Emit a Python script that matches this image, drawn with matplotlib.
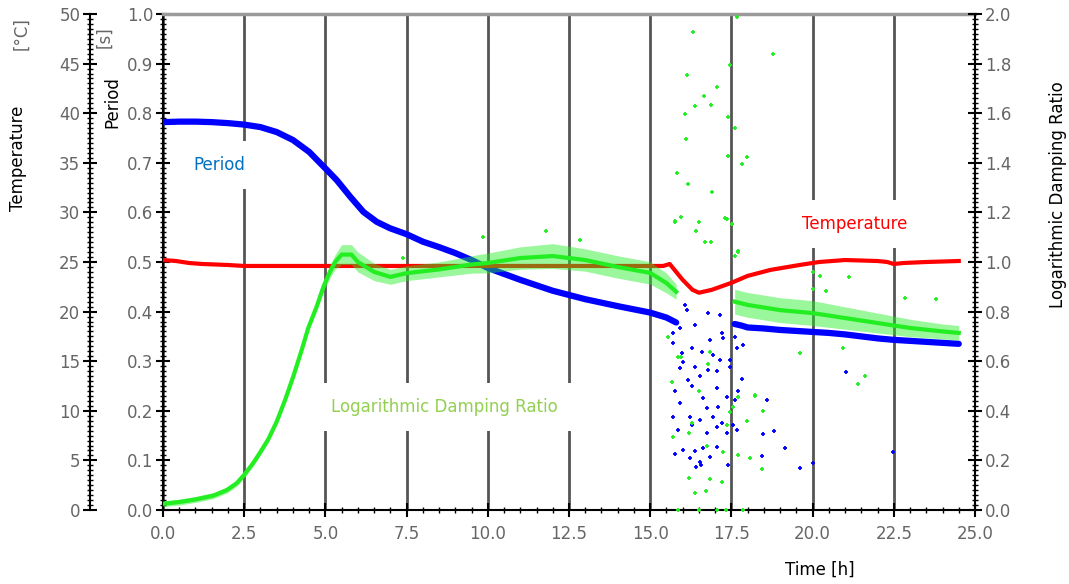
import numpy as np
import matplotlib
matplotlib.use("Agg")
import matplotlib.pyplot as plt
from matplotlib.ticker import MultipleLocator, FormatStrFormatter

# ---- data ----
# period band [s]
t_per = [0, 0.5, 1, 1.5, 2, 2.5, 3, 3.5, 4, 4.5, 5.04, 5.35, 5.76, 6.17, 6.58, 6.99,
         7.5, 8, 8.5, 9, 9.5, 10, 11, 12, 13, 14, 15, 15.5, 15.8]
per = [0.782, 0.783, 0.783, 0.782, 0.780, 0.777, 0.772, 0.762, 0.746, 0.722, 0.686,
       0.665, 0.632, 0.601, 0.581, 0.568, 0.556, 0.541, 0.530, 0.518, 0.504, 0.488,
       0.464, 0.442, 0.425, 0.411, 0.398, 0.388, 0.378]
t_per2 = [17.6, 17.8, 18.0, 18.5, 19, 19.5, 20, 20.5, 21, 21.5, 22, 22.5, 23, 23.5, 24, 24.5]
per2 = [0.375, 0.372, 0.368, 0.366, 0.363, 0.361, 0.359, 0.357, 0.354, 0.350, 0.346,
        0.343, 0.341, 0.339, 0.337, 0.335]

# scattered period points (15.7 - 22.5 h)
t_per_sc = [16.07, 16.12, 16.79, 17.15, 15.69, 15.92, 16.38, 16.84, 17.20, 17.61, 17.68,
            17.87, 15.71, 15.97, 16.28, 16.58, 16.94, 17.25, 17.46, 16.02, 16.38, 16.79,
            17.15, 15.92, 16.17, 16.53, 17.05, 17.46, 17.82, 15.76, 16.28, 16.64, 17.05,
            17.35, 17.71, 15.92, 16.74, 17.10, 17.61, 15.71, 16.23, 16.53, 16.94, 17.20,
            17.56, 15.87, 16.28, 16.74, 17.05, 17.35, 17.66, 16.02, 16.38, 16.64, 17.05,
            15.76, 16.23, 16.53, 16.84, 17.40, 16.41, 16.55, 18.43, 18.46, 18.59, 18.81,
            19.15, 19.61, 20.00, 21.03, 22.48]
per_sc = [0.413, 0.403, 0.398, 0.393, 0.356, 0.366, 0.373, 0.343, 0.356, 0.349, 0.326,
          0.333, 0.336, 0.316, 0.326, 0.319, 0.3125, 0.346, 0.302, 0.299, 0.289, 0.282,
          0.302, 0.286, 0.262, 0.270, 0.281, 0.289, 0.265, 0.239, 0.249, 0.225, 0.245,
          0.227, 0.239, 0.215, 0.205, 0.208, 0.222, 0.188, 0.188, 0.181, 0.188, 0.175,
          0.171, 0.161, 0.171, 0.156, 0.168, 0.155, 0.161, 0.121, 0.118, 0.124, 0.128,
          0.113, 0.104, 0.097, 0.107, 0.091, 0.086, 0.091, 0.109, 0.153, 0.222, 0.159,
          0.125, 0.085, 0.095, 0.279, 0.117]

# temperature [degC]
t_temp = [0, 0.4, 0.8, 1.2, 2.0, 2.5, 5, 10, 15, 15.4, 15.6, 16.0, 16.3, 16.5, 16.9,
          17.5, 18.0, 18.7, 19.6, 20.2, 21.0, 22.0, 22.3, 22.5, 22.8, 23.5, 24.5]
temp = [25.2, 25.1, 24.9, 24.8, 24.7, 24.6, 24.6, 24.6, 24.6, 24.6, 24.8, 23.2, 22.2,
        21.9, 22.2, 22.9, 23.6, 24.2, 24.7, 25.0, 25.2, 25.1, 25.0, 24.8, 24.9, 25.0, 25.1]

# logarithmic damping ratio band: centre and half spread
t_ldr = [0, 0.5, 0.98, 1.55, 1.96, 2.27, 2.52, 2.78, 2.99, 3.24, 3.5, 3.76, 4.01, 4.27,
         4.47, 4.73, 4.94, 5.14, 5.3, 5.5, 5.8, 6, 6.5, 7, 7.5, 8.5, 9.5, 10, 11, 12,
         13, 14, 15, 15.5, 15.8]
ldr = [0.025, 0.032, 0.042, 0.058, 0.08, 0.108, 0.145, 0.19, 0.232, 0.285, 0.356, 0.444,
       0.538, 0.645, 0.733, 0.82, 0.90, 0.961, 1.0, 1.03, 1.03, 1.00, 0.96, 0.94, 0.955,
       0.97, 0.99, 0.996, 1.016, 1.024, 1.008, 0.98, 0.956, 0.915, 0.88]
ldr_sp = [0.012, 0.012, 0.012, 0.012, 0.012, 0.012, 0.012, 0.012, 0.012, 0.012, 0.012,
          0.012, 0.012, 0.012, 0.014, 0.016, 0.02, 0.025, 0.03, 0.04, 0.04, 0.04, 0.035,
          0.03, 0.03, 0.03, 0.035, 0.04, 0.045, 0.05, 0.045, 0.045, 0.045, 0.04, 0.03]
t_ldr2 = [17.6, 18, 19, 20, 21, 22, 23, 24, 24.5]
ldr2 = [0.84, 0.827, 0.806, 0.794, 0.774, 0.754, 0.734, 0.72, 0.714]
ldr2_sp = [0.05, 0.05, 0.05, 0.05, 0.045, 0.04, 0.035, 0.03, 0.03]

# scattered damping points
t_ldr_sc = [17.66, 16.33, 18.79, 16.12, 17.46, 17.05, 16.66, 16.37, 16.86, 16.07, 17.40,
            17.61, 16.10, 17.39, 17.99, 17.82, 15.82, 16.15, 16.91, 15.76, 15.95, 17.36,
            16.50, 16.41, 16.69, 16.88, 17.52, 17.61, 17.71, 15.66, 16.79, 16.51, 17.71,
            18.23, 17.99, 18.46, 16.28, 17.46, 15.71, 16.19, 16.76, 17.36, 17.71, 17.25,
            18.07, 18.43, 16.19, 16.84, 17.20, 16.38, 16.72, 15.85, 16.51, 17.07, 17.32,
            17.87, 15.95, 17.54, 16.84, 17.30, 17.53, 17.71, 21.12, 20.23, 20.02, 20.41,
            20.00, 22.84, 23.80, 19.61, 20.95, 21.61, 21.41, 18.23, 9.86, 11.78, 15.76,
            12.84, 7.38, 15.55, 15.85]
ldr_sc = [1.989, 1.926, 1.837, 1.754, 1.794, 1.707, 1.669, 1.629, 1.634, 1.595, 1.586,
          1.542, 1.495, 1.429, 1.422, 1.394, 1.360, 1.316, 1.281, 1.167, 1.180, 1.173,
          1.163, 1.124, 1.079, 1.079, 1.152, 1.024, 1.046, 0.517, 0.587, 0.481, 0.457,
          0.461, 0.359, 0.400, 0.349, 0.396, 0.296, 0.309, 0.258, 0.343, 0.222, 0.235,
          0.208, 0.164, 0.130, 0.125, 0.112, 0.067, 0.077, 0.0, 0.0, 0.0, 0.0, 0.0,
          0.618, 0.417, 0.638, 1.177, 1.153, 1.040, 0.938, 0.944, 0.961, 0.884, 0.890,
          0.856, 0.850, 0.634, 0.652, 0.542, 0.508, 0.464, 1.102, 1.125, 1.163, 1.089,
          1.017, 0.699, 0.618]

W, H = 1069, 584
BLUE, RED, GREEN = "#0000ff", "#ff0000", "#22ee22"
GRAY = "#666666"

fig = plt.figure(figsize=(W / 100, H / 100), dpi=100)
ax = fig.add_axes([163 / W, 1 - 510 / H, 812 / W, 496 / H])
axt = ax.twinx()
axr = ax.twinx()

ax.set_xlim(0, 25)
ax.set_ylim(0, 1)
axt.set_ylim(0, 50)
axr.set_ylim(0, 2)

# spines
for a in (axt, axr):
    for s in ("top", "bottom", "left", "right"):
        a.spines[s].set_visible(False)
ax.spines["right"].set_visible(False)
ax.spines["top"].set_color("#9a9a9a")
ax.spines["top"].set_linewidth(2.5)
ax.spines["left"].set_linewidth(1.5)
ax.spines["bottom"].set_linewidth(1.5)

axt.spines["left"].set_visible(True)
axt.spines["left"].set_position(("axes", -73 / 812))
axt.spines["left"].set_linewidth(1.5)
axt.yaxis.set_ticks_position("left")
axt.yaxis.set_label_position("left")
axr.spines["right"].set_visible(True)
axr.spines["right"].set_linewidth(1.5)

# ticks
ax.xaxis.set_major_locator(MultipleLocator(2.5))
ax.xaxis.set_minor_locator(MultipleLocator(0.5))
ax.xaxis.set_major_formatter(FormatStrFormatter("%.1f"))
ax.yaxis.set_major_locator(MultipleLocator(0.1))
ax.yaxis.set_minor_locator(MultipleLocator(0.01))
ax.yaxis.set_major_formatter(FormatStrFormatter("%.1f"))
axt.yaxis.set_major_locator(MultipleLocator(5))
axt.yaxis.set_minor_locator(MultipleLocator(0.5))
axr.yaxis.set_major_locator(MultipleLocator(0.2))
axr.yaxis.set_minor_locator(MultipleLocator(0.02))
axr.yaxis.set_major_formatter(FormatStrFormatter("%.1f"))

for a in (ax, axt, axr):
    a.tick_params(which="major", direction="inout", length=10, width=1.5,
                  labelsize=12, labelcolor=GRAY, pad=2)
    a.tick_params(which="minor", direction="inout", length=5, width=1.0)
ax.tick_params(axis="x", pad=6)
ax.tick_params(axis="y", left=True, right=False)
axr.tick_params(axis="y", left=False, right=True, labelleft=False, labelright=True)

ax.grid(axis="x", which="major", color="#555555", linewidth=2)
ax.set_axisbelow(True)

# period
ax.plot(t_per, per, color=BLUE, lw=4.5, solid_capstyle="round", zorder=3)
ax.plot(t_per2, per2, color=BLUE, lw=4.5, solid_capstyle="round", zorder=3)
ax.plot(t_per_sc, per_sc, "+", color=BLUE, ms=3.5, mew=1.3, zorder=3)

# temperature
axt.plot(t_temp, temp, color=RED, lw=3)

# damping ratio
lo = np.array(ldr) - np.array(ldr_sp)
hi = np.array(ldr) + np.array(ldr_sp)
axr.fill_between(t_ldr, lo, hi, color=GREEN, alpha=0.45, lw=0)
axr.plot(t_ldr, ldr, color=GREEN, lw=3)
lo2 = np.array(ldr2) - np.array(ldr2_sp)
hi2 = np.array(ldr2) + np.array(ldr2_sp)
axr.fill_between(t_ldr2, lo2, hi2, color=GREEN, alpha=0.45, lw=0)
axr.plot(t_ldr2, ldr2, color=GREEN, lw=3)
axr.plot(t_ldr_sc, ldr_sc, "+", color=GREEN, ms=3.5, mew=1.3, clip_on=False)

# in-plot labels with white boxes cutting the grid lines
box = dict(boxstyle="square,pad=0.9", fc="white", ec="none")
ax.text(219 / W, 1 - 165 / H, "Period", transform=fig.transFigure, color="#0070c0",
        fontsize=12, ha="center", va="center", bbox=box, zorder=2)
ax.text(855 / W, 1 - 224 / H, "Temperature", transform=fig.transFigure, color=RED,
        fontsize=12, ha="center", va="center", bbox=box, zorder=2)
ax.text(444 / W, 1 - 407 / H, "Logarithmic Damping Ratio", transform=fig.transFigure,
        color="#92d050", fontsize=12, ha="center", va="center", bbox=box, zorder=2)

# axis titles
fig.text(18 / W, 1 - 158 / H, "Temperature", rotation=90, fontsize=12,
         ha="center", va="center")
fig.text(21 / W, 1 - 34 / H, "[°C]", rotation=90, fontsize=12, color=GRAY,
         ha="center", va="center")
fig.text(112 / W, 1 - 102 / H, "Period", rotation=90, fontsize=12,
         ha="center", va="center")
fig.text(104 / W, 1 - 37 / H, "[s]", rotation=90, fontsize=12, color=GRAY,
         ha="center", va="center")
fig.text(1058 / W, 1 - 195 / H, "Logarithmic Damping Ratio", rotation=90, fontsize=12,
         ha="center", va="center")
fig.text(820 / W, 1 - 570 / H, "Time [h]", fontsize=12, ha="center", va="center")

fig.savefig("out.png", dpi=100)
